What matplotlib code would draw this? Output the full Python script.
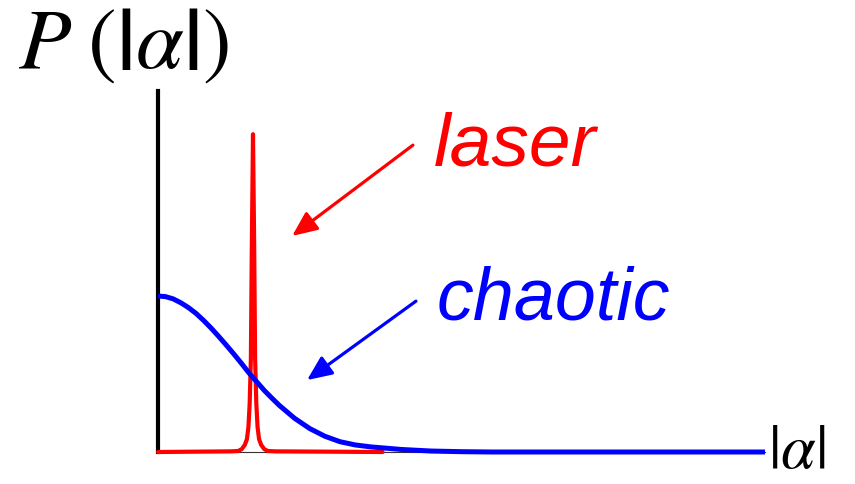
import matplotlib
matplotlib.use("Agg")
import matplotlib.pyplot as plt

plt.rcParams["mathtext.fontset"] = "stix"

# chaotic (thermal) light distribution
chaotic_x = [0.0, 0.125, 0.25, 0.375, 0.5, 0.625, 0.75, 0.875, 1.0, 1.125, 1.25,
             1.375, 1.5, 1.625, 1.75, 1.875, 2.0, 2.25, 2.5, 2.75, 3.0, 3.25,
             3.5, 4.0, 4.5, 5.0, 5.5, 10.0]
chaotic_y = [0.486, 0.484, 0.477, 0.465, 0.450, 0.432, 0.410, 0.386, 0.360,
             0.333, 0.305, 0.276, 0.246, 0.219, 0.192, 0.168, 0.145, 0.105,
             0.073, 0.049, 0.032, 0.022, 0.016, 0.008, 0.003, 0.001, 0.0, 0.0]

# laser light: narrow peak
laser_x = [0.0, 1.19, 1.32, 1.38, 1.43, 1.465, 1.49, 1.51, 1.53, 1.545, 1.565,
           1.585, 1.60, 1.62, 1.64, 1.665, 1.70, 1.75, 1.81, 1.94, 3.7]
laser_y = [0.0, 0.002, 0.003, 0.009, 0.022, 0.040, 0.078, 0.150, 0.29, 0.63,
           0.99, 0.63, 0.29, 0.150, 0.078, 0.040, 0.022, 0.009, 0.003, 0.002, 0.0]

red = "#ff0000"
blue = "#0000ff"

fig = plt.figure(figsize=(8.55, 4.85), dpi=100)
ax = fig.add_axes([158 / 855, 1 - 453 / 485, 607 / 855, 361 / 485])
ax.set_xlim(0, 10)
ax.set_ylim(0, 361 / 321)
ax.set_xticks([])
ax.set_yticks([])
ax.spines["top"].set_visible(False)
ax.spines["right"].set_visible(False)
ax.spines["left"].set_linewidth(3)
ax.spines["left"].set_color("black")
ax.spines["bottom"].set_linewidth(0.8)
ax.spines["bottom"].set_color("#333333")

ax.plot(laser_x, laser_y, color=red, lw=3.0, solid_capstyle="round",
        solid_joinstyle="round", clip_on=False, zorder=3)
ax.plot(chaotic_x, chaotic_y, color=blue, lw=3.6, solid_capstyle="butt",
        clip_on=False, zorder=4)

# arrows pointing at each curve
arrow = "-|>,head_length=0.75,head_width=0.33"
ax.annotate("", xy=(2.21, 0.673), xytext=(4.20, 0.956),
            arrowprops=dict(arrowstyle=arrow, color=red, lw=2.3,
                            mutation_scale=20, shrinkA=0, shrinkB=0))
ax.annotate("", xy=(2.455, 0.224), xytext=(4.25, 0.470),
            arrowprops=dict(arrowstyle=arrow, color=blue, lw=2.3,
                            mutation_scale=20, shrinkA=0, shrinkB=0))

fig.text(434 / 855, 1 - 165 / 485, "laser", color=red, fontsize=54,
         family="Liberation Sans", style="italic", va="baseline")
fig.text(437 / 855, 1 - 319 / 485, "chaotic", color=blue, fontsize=53,
         family="Liberation Sans", style="italic", va="baseline")

fig.text(18 / 855, 1 - 68 / 485, r"$P\;(\mathbf{|}\alpha\mathbf{|})$",
         fontsize=62, va="baseline")
fig.text(768 / 855, 1 - 468 / 485, r"$|\alpha|$", fontsize=45,
         va="baseline")

fig.savefig("out.png", dpi=100)
